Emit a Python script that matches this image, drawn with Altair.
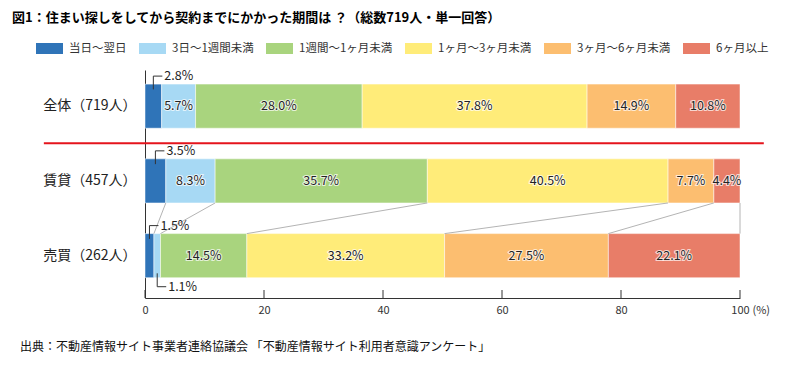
import altair as alt
import pandas as pd

title_text = "図1：住まい探しをしてから契約までにかかった期間は ？（総数719人・単一回答）"
source_text = "出典：不動産情報サイト事業者連絡協議会 「不動産情報サイト利用者意識アンケート」"

categories = ["全体（719人）", "賃貸（457人）", "売買（262人）"]
periods = ["当日～翌日", "3日～1週間未満", "1週間～1ヶ月未満", "1ヶ月～3ヶ月未満", "3ヶ月～6ヶ月未満", "6ヶ月以上"]
values_total = [2.8, 5.7, 28.0, 37.8, 14.9, 10.8]
values_rent = [3.5, 8.3, 35.7, 40.5, 7.7, 4.4]
values_buy = [1.5, 1.1, 14.5, 33.2, 27.5, 22.1]
label_side_total = ["above", "in", "in", "in", "in", "in"]
label_side_rent = ["above", "in", "in", "in", "in", "in"]
label_side_buy = ["above", "below", "in", "in", "in", "in"]
colors = ["#2f74b8", "#a7d9f4", "#a9d47e", "#ffec79", "#fcbe70", "#e87d68"]
tick_values = [0, 20, 40, 60, 80, 100]
axis_unit = "(%)"

FONT = "Noto Sans CJK JP"
W, H = 595, 228

rows = []
for cat, vals, sides in zip(categories, [values_total, values_rent, values_buy],
                            [label_side_total, label_side_rent, label_side_buy]):
    total = sum(vals)
    cum = 0.0
    for i, (p, v, s) in enumerate(zip(periods, vals, sides)):
        start = cum / total * 100
        cum += v
        end = cum / total * 100
        rows.append(dict(cat=cat, period=p, order=i, value=v, start=start, end=end,
                         mid=(start + end) / 2, side=s, label=f"{v:.1f}%"))
df = pd.DataFrame(rows)

rent_end = df[df.cat == categories[1]]["end"].tolist()
buy_end = df[df.cat == categories[2]]["end"].tolist()
conn = pd.DataFrame({"period": periods, "x_from": rent_end, "x_to": buy_end,
                     "c_from": categories[1], "c_to": categories[2]})

xscale = alt.Scale(domain=[0, 100], nice=False, zero=False)
yscale = alt.Scale(domain=categories, paddingInner=0.41, paddingOuter=0.23, align=0.41)

AX = alt.Axis(values=tick_values, ticks=False, grid=False, domainColor="#333",
              labelColor="#333", labelFontSize=11, labelFont=FONT, labelPadding=6,
              labelFlush=False,
              title=axis_unit, titleX=W + 12, titleY=6, titleAlign="left",
              titleBaseline="top", titleFontWeight="normal", titleFontSize=11,
              titleColor="#333", titleFont=FONT)
AY = alt.Axis(title=None, ticks=False, grid=False, domainColor="#333", labelFontSize=14,
              labelColor="#222", labelPadding=9, labelFont=FONT)


def X(field, **kw):
    return alt.X(field, scale=xscale, axis=AX, **kw)


def Y(field, **kw):
    return alt.Y(field, scale=yscale, axis=AY, **kw)


base = alt.Chart(df)

bars = base.mark_bar(stroke="white", strokeWidth=0.5).encode(
    x=X("start:Q"),
    x2="end:Q",
    y=Y("cat:N"),
    color=alt.Color("period:N", scale=alt.Scale(domain=periods, range=colors),
                    legend=alt.Legend(title=None, orient="none", legendX=-109, legendY=-35,
                                      direction="horizontal", columns=6,
                                      symbolType="M-1,-0.407L1,-0.407L1,0.407L-1,0.407Z",
                                      symbolSize=729, symbolStrokeWidth=0,
                                      labelFont=FONT, labelFontSize=11.5, labelColor="#333",
                                      labelOffset=6, columnPadding=12)),
    order="order:Q",
)

connectors = alt.Chart(conn).mark_rule(color="#b4b4b4", strokeWidth=1).encode(
    x=X("x_from:Q"),
    x2="x_to:Q",
    y=Y("c_from:N", bandPosition=1),
    y2=alt.Y2("c_to", bandPosition=0),
)

ticks = alt.Chart(pd.DataFrame({"t": tick_values})).mark_rule(color="#333", strokeWidth=1).encode(
    x=X("t:Q"),
    y=alt.value(H),
    y2=alt.value(H - 8),
)

inside = base.transform_filter(alt.datum.side == "in")
halo = inside.mark_text(font=FONT, fontSize=12.5, stroke="white", strokeWidth=2.2,
                        strokeOpacity=0.7, color="white").encode(
    x=X("mid:Q"), y=Y("cat:N"), text="label:N",
)
in_text = inside.mark_text(font=FONT, fontSize=12.5, color="#222").encode(
    x=X("mid:Q"), y=Y("cat:N"), text="label:N",
)


def outside_layers(side, inner, edge, off):
    sub = base.transform_filter(alt.datum.side == side)
    vert = sub.mark_rule(color="#333", strokeWidth=1, y2Offset=off).encode(
        x=X("mid:Q"),
        y=Y("cat:N", bandPosition=inner),
        y2=alt.Y2("cat", bandPosition=edge),
    )
    horiz = sub.mark_rule(color="#333", strokeWidth=1, x2Offset=9, yOffset=off).encode(
        x=X("mid:Q"),
        x2="mid:Q",
        y=Y("cat:N", bandPosition=edge),
    )
    txt = sub.mark_text(font=FONT, fontSize=12.5, color="#222", align="left", dx=11, dy=off).encode(
        x=X("mid:Q"),
        y=Y("cat:N", bandPosition=edge),
        text="label:N",
    )
    return [vert, horiz, txt]


above = outside_layers("above", 0.12, 0, -8)
below = outside_layers("below", 0.9, 1, 9)

separator = alt.Chart(pd.DataFrame({"cat": [categories[0]], "x0": [-17.0], "x1": [104.0]})).mark_rule(
    color="#e5141c", strokeWidth=2, yOffset=15).encode(
    x=X("x0:Q"),
    x2="x1:Q",
    y=Y("cat:N", bandPosition=1),
)

title = alt.Chart(pd.DataFrame({"t": [title_text]})).mark_text(
    font=FONT, fontSize=13, fontWeight="bold", color="#000", align="left", baseline="middle").encode(
    x=alt.value(-133), y=alt.value(-52.5), text="t:N")

source = alt.Chart(pd.DataFrame({"t": [source_text]})).mark_text(
    font=FONT, fontSize=12, color="#111", align="left", baseline="middle").encode(
    x=alt.value(-125), y=alt.value(277), text="t:N")

chart = alt.layer(
    bars, connectors, ticks, halo, in_text, *above, *below, separator, title, source
).properties(
    width=W, height=H,
    autosize=alt.AutoSizeParams(type="none"),
    padding={"left": 137, "top": 62, "right": 45, "bottom": 58},
    background="white",
).configure_view(stroke=None)

chart.save("out.html", embed_options={"renderer": "svg", "actions": False})
